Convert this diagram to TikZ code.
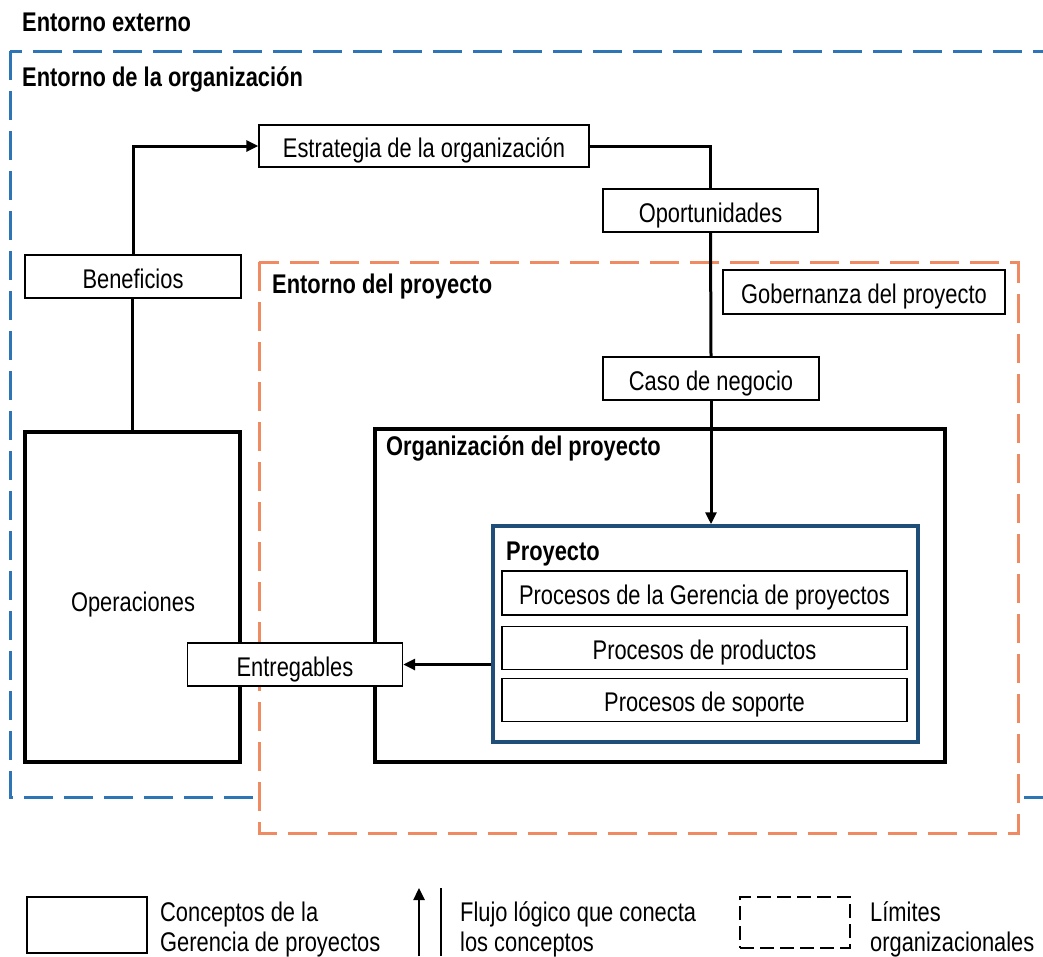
\documentclass[tikz,border=0pt]{standalone}
\usepackage{fontspec}
\setmainfont{Liberation Sans}[FakeStretch=0.81]
\usetikzlibrary{arrows.meta}
\definecolor{orgblue}{RGB}{46,117,182}
\definecolor{projorange}{RGB}{239,138,98}
\definecolor{projblue}{RGB}{31,78,121}
\begin{document}
\begin{tikzpicture}[x=1pt,y=-1pt,
  every node/.style={font=\fontsize{27}{30}\selectfont},
  boxtext/.style={text height=24.5pt, text depth=1.5pt},
  concept/.style={draw=black, line width=1.4pt, fill=white, inner sep=0pt, boxtext},
  heavy/.style={draw=black, line width=3.5pt, fill=white, inner sep=0pt},
  title/.style={anchor=base west, inner sep=0pt, font=\fontsize{27}{30}\selectfont\bfseries},
  boundary/.style={line width=3pt, dash pattern=on 29pt off 11pt},
  flow/.style={line width=3pt, -{Triangle[length=12pt,width=11pt]}},
  link/.style={line width=3pt},
  legend/.style={anchor=base west, inner sep=0pt}
]
\useasboundingbox (0,0) rectangle (1043,956);
\clip (0,0) rectangle (1043,956);

% organisational boundaries
\draw[orgblue, boundary] (10,51) rectangle (1070,797);
\draw[projorange, boundary, fill=white] (259,262) rectangle (1018,833);

% environment titles
\node[title] (ext) at (22,31) {Entorno externo};
\node[title] (orgenv) at (22,86) {Entorno de la organización};
\node[title] (projenv) at (272,293) {Entorno del proyecto};

% concept boxes
\node[concept, minimum width=330pt, minimum height=42pt] (estr) at (424,146) {Estrategia de la organización};
\node[concept, minimum width=215pt, minimum height=43pt] (opor) at (710.5,210.5) {Oportunidades};
\node[concept, minimum width=216pt, minimum height=43pt] (ben) at (133,276.5) {Beneficios};
\node[concept, minimum width=282pt, minimum height=44pt] (gob) at (864,292) {Gobernanza del proyecto};
\node[concept, minimum width=216pt, minimum height=43pt] (caso) at (711,378.5) {Caso de negocio};

\node[heavy, minimum width=215pt, minimum height=330pt] (ops) at (132.5,597) {};
\node[boxtext, inner sep=0pt] (opstext) at (133,600) {Operaciones};
\node[heavy, minimum width=570pt, minimum height=333pt] (orgproj) at (660,595.5) {};
\node[title] (orgprojt) at (386,455) {Organización del proyecto};

\node[heavy, draw=projblue, minimum width=425pt, minimum height=216pt] (proy) at (705.5,634) {};
\node[title] (proyt) at (506,560) {Proyecto};
\node[concept, minimum width=405pt, minimum height=44pt] (pgp) at (704.5,593) {Procesos de la Gerencia de proyectos};
\node[concept, minimum width=405pt, minimum height=43pt] (pprod) at (704.5,648) {Procesos de productos};
\node[concept, minimum width=405pt, minimum height=43pt] (psop) at (704.5,700) {Procesos de soporte};

\node[concept, minimum width=215pt, minimum height=43pt] (entr) at (295,664.5) {Entregables};

% logical flow
\draw[link] (ops.north) -- (ops.north |- ben.south);
\draw[flow] (ben.north) |- (estr.west);
\draw[link] (estr.east) -| (opor.north);
\draw[link] (opor.south) -- (caso.north);
\draw[flow] (caso.south) -- (caso.south |- proy.north);
\draw[flow] (proy.west |- entr.east) -- (entr.east);

% legend
\node[concept, minimum width=120pt, minimum height=56pt] (lgbox) at (87,925) {};
\node[legend] (lg1a) at (160,921) {Conceptos de la};
\node[legend] (lg1b) at (160,951) {Gerencia de proyectos};
\coordinate (lgfoot) at (419,956);
\coordinate (lgtip) at (419,888);
\coordinate (lgbarbot) at (441,956);
\coordinate (lgbartop) at (441,888);
\draw[flow, line width=2.5pt] (lgfoot) -- (lgtip);
\draw[link, line width=2.5pt] (lgbarbot) -- (lgbartop);
\node[legend] (lg2a) at (460,921) {Flujo lógico que conecta};
\node[legend] (lg2b) at (460,951) {los conceptos};
\node[draw, line width=2pt, dash pattern=on 14pt off 6pt, minimum width=110pt, minimum height=51pt, inner sep=0pt] (lgdash) at (795,922.5) {};
\node[legend] (lg3a) at (870,921) {Límites};
\node[legend] (lg3b) at (870,951) {organizacionales};
\end{tikzpicture}
\end{document}
